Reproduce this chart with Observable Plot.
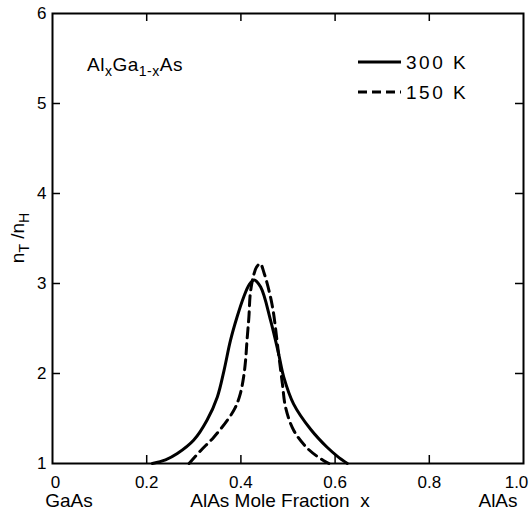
<!DOCTYPE html>
<html>
<head>
<meta charset="utf-8">
<script src="https://cdn.jsdelivr.net/npm/d3@7"></script>
<script src="https://cdn.jsdelivr.net/npm/@observablehq/plot@0.6"></script>
<style>
  html, body { margin: 0; padding: 0; background: white; }
</style>
</head>
<body>
<div id="chart"></div>
<script>
// ---- data ----
const xTicks = [0, 0.2, 0.4, 0.6, 0.8, 1.0];
const xTickLabels = ["0", "0.2", "0.4", "0.6", "0.8", "1.0"];
const yTicks = [1, 2, 3, 4, 5, 6];

// 300 K (solid)
const x300 = [0.212, 0.240, 0.265, 0.300, 0.328, 0.350, 0.364, 0.378, 0.392, 0.406, 0.418, 0.428, 0.442, 0.463, 0.480, 0.491, 0.512, 0.548, 0.583, 0.605, 0.626];
const y300 = [1.00, 1.04, 1.11, 1.26, 1.48, 1.74, 2.03, 2.37, 2.63, 2.85, 2.99, 3.04, 2.96, 2.59, 2.22, 1.96, 1.66, 1.38, 1.18, 1.08, 1.00];

// 150 K (dashed)
const x150 = [0.290, 0.314, 0.342, 0.371, 0.388, 0.399, 0.406, 0.410, 0.413, 0.417, 0.420, 0.426, 0.433, 0.441, 0.449, 0.466, 0.480, 0.488, 0.495, 0.512, 0.541, 0.576, 0.587];
const y150 = [1.00, 1.14, 1.29, 1.48, 1.62, 1.78, 1.97, 2.15, 2.37, 2.63, 2.89, 3.07, 3.18, 3.22, 3.12, 2.77, 2.22, 1.89, 1.62, 1.37, 1.17, 1.03, 1.00];

const seriesNames = ["300 K", "150 K"];

const s300 = x300.map((x, i) => ({x, y: y300[i]}));
const s150 = x150.map((x, i) => ({x, y: y150[i]}));

const W = 531, H = 511;
const mL = 52, mR = 8, mT = 13, mB = 48;
const plotH = H - mT - mB, plotW = W - mL - mR;
const tickLen = 8;
const font = "Liberation Sans, Arial, sans-serif";
const fmtX = d => xTickLabels[xTicks.indexOf(d)];

const chart = Plot.plot({
  width: W,
  height: H,
  marginLeft: mL,
  marginRight: mR,
  marginTop: mT,
  marginBottom: mB,
  x: {domain: [0, 1]},
  y: {domain: [1, 6]},
  style: {fontFamily: font, fontSize: "16px", color: "black", background: "white"},
  marks: [
    // inward ticks on all four sides
    Plot.tickX(xTicks.slice(1, -1), {x: d => d, insetTop: plotH - tickLen, strokeWidth: 1.5}),
    Plot.tickX(xTicks.slice(1, -1), {x: d => d, insetBottom: plotH - tickLen, strokeWidth: 1.5}),
    Plot.tickY(yTicks.slice(1, -1), {y: d => d, insetRight: plotW - tickLen, strokeWidth: 1.5}),
    Plot.tickY(yTicks.slice(1, -1), {y: d => d, insetLeft: plotW - tickLen, strokeWidth: 1.5}),
    Plot.frame({strokeWidth: 2}),
    Plot.axisX(xTicks.slice(0, 1), {tickSize: 0, tickPadding: 12, dx: 3, tickFormat: fmtX, label: null, fontSize: 17}),
    Plot.axisX(xTicks.slice(1, -1), {tickSize: 0, tickPadding: 12, tickFormat: fmtX, label: null, fontSize: 17}),
    Plot.axisX(xTicks.slice(-1), {tickSize: 0, tickPadding: 12, dx: -7, tickFormat: fmtX, label: null, fontSize: 17}),
    Plot.axisY(yTicks, {tickSize: 0, tickPadding: 6, tickFormat: d => String(d), label: null, fontSize: 17}),
    Plot.line(s300, {x: "x", y: "y", curve: "catmull-rom", stroke: "black", strokeWidth: 3}),
    Plot.line(s150, {x: "x", y: "y", curve: "catmull-rom", stroke: "black", strokeWidth: 3, strokeDasharray: "10,6"})
  ]
});

document.getElementById("chart").appendChild(chart);

const svg = d3.select(chart);
const g = svg.append("g").attr("font-family", font).attr("fill", "black").attr("text-anchor", "start");

// legend
const legendY = [62, 92];
seriesNames.forEach((name, i) => {
  g.append("line")
    .attr("x1", 358).attr("x2", 401)
    .attr("y1", legendY[i]).attr("y2", legendY[i])
    .attr("stroke", "black").attr("stroke-width", 3)
    .attr("stroke-dasharray", i === 1 ? "9,5" : null);
  g.append("text")
    .attr("x", 406).attr("y", legendY[i])
    .attr("dy", "0.35em")
    .attr("text-anchor", "start")
    .attr("font-size", 19)
    .attr("letter-spacing", 2.5)
    .text(name);
});

// compound label
const t = g.append("text").attr("x", 87).attr("y", 71).attr("font-size", 19).attr("text-anchor", "start").attr("letter-spacing", 0.5);
t.append("tspan").text("Al");
t.append("tspan").attr("dy", 5).attr("font-size", 14).text("x");
t.append("tspan").attr("dy", -5).text("Ga");
t.append("tspan").attr("dy", 5).attr("font-size", 14).text("1-x");
t.append("tspan").attr("dy", -5).text("As");

// y-axis title n_T / n_H
const yt = g.append("text")
  .attr("transform", "translate(24,238) rotate(-90)")
  .attr("text-anchor", "middle")
  .attr("font-size", 19);
yt.append("tspan").text("n");
yt.append("tspan").attr("dy", 5).attr("font-size", 14).text("T");
yt.append("tspan").attr("dy", -5).text(" /n");
yt.append("tspan").attr("dy", 5).attr("font-size", 14).text("H");

// bottom labels
g.append("text").attr("x", 69).attr("y", 507).attr("text-anchor", "middle").attr("font-size", 19).text("GaAs");
g.append("text").attr("x", 280).attr("y", 507).attr("text-anchor", "middle").attr("font-size", 19)
  .style("white-space", "pre").text("AlAs Mole Fraction  x");
g.append("text").attr("x", 498).attr("y", 507).attr("text-anchor", "middle").attr("font-size", 19).text("AlAs");
</script>
</body>
</html>
